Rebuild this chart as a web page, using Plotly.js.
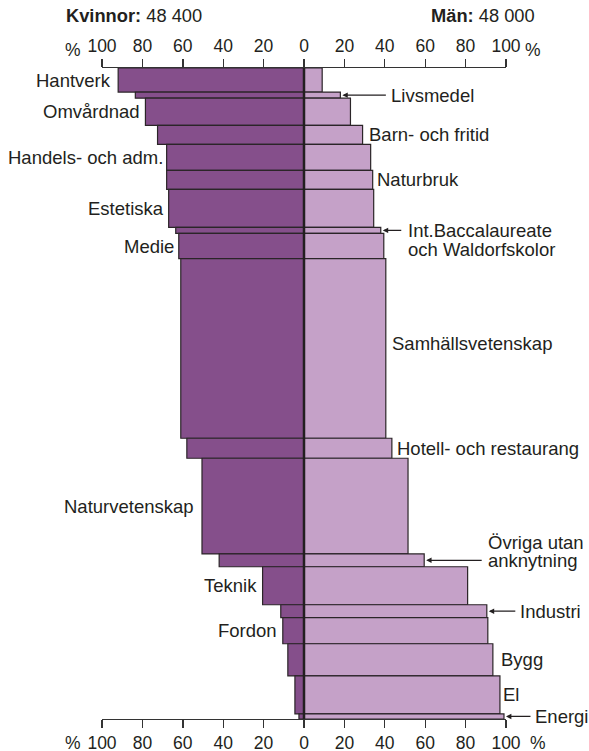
<!DOCTYPE html>
<html>
<head>
<meta charset="utf-8">
<script src="https://cdn.plot.ly/plotly-3.0.1.min.js"></script>
<style>
  html, body { margin: 0; padding: 0; background: #fff; }
  #chart { width: 589px; height: 751px; }
</style>
</head>
<body>
<div id="chart"></div>
<script>
// program, antal elever (bar height) and share of women / men in percent
const program = ['Hantverk', 'Livsmedel', 'Omvårdnad', 'Barn- och fritid', 'Handels- och adm.',
  'Naturbruk', 'Estetiska', 'Int.Baccalaureate och Waldorfskolor', 'Medie', 'Samhällsvetenskap',
  'Hotell- och restaurang', 'Naturvetenskap', 'Övriga utan anknytning', 'Teknik', 'Industri',
  'Fordon', 'Bygg', 'El', 'Energi'];
const elever = [3550, 900, 4000, 2800, 3850, 2800, 5600, 900, 3700, 26500,
  2950, 14100, 1900, 5600, 1900, 3850, 4750, 5600, 750];
const kvinnor = [92, 83.5, 78.5, 72.5, 68, 68, 67, 63.5, 62, 61,
  58, 50.5, 42, 20.5, 11.5, 10.5, 8, 4.5, 2.5];
const man = [9, 18, 23, 29, 33, 34, 34.5, 38, 39.5, 40.5,
  43.5, 51.5, 59.5, 81, 90.5, 91, 93.5, 97, 99];

const tickVals = [-100, -80, -60, -40, -20, 0, 20, 40, 60, 80, 100];
const tickText = ['100', '80', '60', '40', '20', '0', '20', '40', '60', '80', '100'];

const textColor = '#231f20';
const font = 'Liberation Sans, Arial, sans-serif';
const labelSize = 18.5;

// centre of every bar along the y axis
const total = elever.reduce((a, b) => a + b, 0);
const mitt = [];
let acc = 0;
elever.forEach(n => { mitt.push(acc + n / 2); acc += n; });

// where each program name goes
const etikett = {
  'Hantverk': { side: 'left', dx: -6 },
  'Omvårdnad': { side: 'left', dx: -4 },
  'Handels- och adm.': { side: 'left', dx: -3 },
  'Estetiska': { side: 'left', dx: -4 },
  'Medie': { side: 'left', dx: -4 },
  'Naturvetenskap': { side: 'left', dx: -7 },
  'Teknik': { side: 'left', dx: -5 },
  'Fordon': { side: 'left', dx: -5 },
  'Barn- och fritid': { side: 'right', dx: 5 },
  'Naturbruk': { side: 'right', dx: 3 },
  'Samhällsvetenskap': { side: 'right', dx: 5, dy: 5 },
  'Hotell- och restaurang': { side: 'right', dx: 4 },
  'Bygg': { side: 'right', dx: 7 },
  'El': { side: 'right', dx: 2 },
  'Livsmedel': { side: 'right', dx: 50, arrow: 47 },
  'Int.Baccalaureate och Waldorfskolor': { side: 'right', dx: 26, arrow: 22,
    lines: ['Int.Baccalaureate', 'och Waldorfskolor'], dys: [0, -19] },
  'Övriga utan anknytning': { side: 'right', dx: 63, arrow: 59,
    lines: ['Övriga utan', 'anknytning'], dys: [18, 0] },
  'Industri': { side: 'right', dx: 32, arrow: 30 },
  'Energi': { side: 'right', dx: 30, arrow: 28 }
};

const annotations = [];
program.forEach((p, i) => {
  const e = etikett[p];
  if (!e) return;
  const x = e.side === 'left' ? -kvinnor[i] : man[i];
  const lines = e.lines || [p];
  const dys = e.dys || [e.dy || 0];
  lines.forEach((t, k) => {
    annotations.push({
      x: x, y: mitt[i], xref: 'x', yref: 'y', text: t, showarrow: false,
      xanchor: e.side === 'left' ? 'right' : 'left', yanchor: 'middle',
      xshift: e.dx, yshift: dys[k], borderpad: 0,
      font: { family: font, size: labelSize, color: textColor }
    });
  });
  if (e.arrow) {
    annotations.push({
      x: x, y: mitt[i], xref: 'x', yref: 'y', text: '', showarrow: true,
      ax: e.arrow, ay: 0, arrowhead: 2, arrowsize: 0.9, arrowwidth: 1.2,
      arrowcolor: textColor, standoff: 2
    });
  }
});

// headline texts and % signs
annotations.push(
  { xref: 'paper', yref: 'paper', x: -0.094, y: 1.08, xanchor: 'left', yanchor: 'middle',
    text: '<b>Kvinnor:</b> 48 400', showarrow: false, font: { family: font, size: 18.3, color: textColor } },
  { xref: 'paper', yref: 'paper', x: 1.077, y: 1.08, xanchor: 'right', yanchor: 'middle',
    text: '<b>Män:</b> 48 000', showarrow: false, font: { family: font, size: 18.3, color: textColor } },
  { xref: 'paper', yref: 'paper', x: -0.073, y: 1.028, xanchor: 'center', yanchor: 'middle',
    text: '%', showarrow: false, font: { family: font, size: 17.5, color: textColor } },
  { xref: 'paper', yref: 'paper', x: 1.067, y: 1.028, xanchor: 'center', yanchor: 'middle',
    text: '%', showarrow: false, font: { family: font, size: 17.5, color: textColor } },
  { xref: 'paper', yref: 'paper', x: -0.071, y: -0.037, xanchor: 'center', yanchor: 'middle',
    text: '%', showarrow: false, font: { family: font, size: 17.5, color: textColor } },
  { xref: 'paper', yref: 'paper', x: 1.079, y: -0.037, xanchor: 'center', yanchor: 'middle',
    text: '%', showarrow: false, font: { family: font, size: 17.5, color: textColor } }
);

const outline = { color: '#2b2528', width: 1.2 };

const traces = [
  {
    type: 'bar', orientation: 'h', name: 'Kvinnor',
    y: mitt, x: kvinnor.map(v => -v), width: elever,
    marker: { color: '#854f8b', line: outline },
    hoverinfo: 'skip'
  },
  {
    type: 'bar', orientation: 'h', name: 'Män',
    y: mitt, x: man, width: elever,
    marker: { color: '#c5a1c8', line: outline },
    hoverinfo: 'skip'
  },
  {
    // carries the top axis
    type: 'scatter', mode: 'markers', x: [0], y: [0], xaxis: 'x2',
    marker: { opacity: 0 }, hoverinfo: 'skip', showlegend: false
  }
];

const axisBase = {
  range: [-100, 100], tickvals: tickVals, ticktext: tickText,
  showline: true, linecolor: '#333', linewidth: 1.4,
  ticks: 'outside', ticklen: 8, tickwidth: 1.4, tickcolor: '#333',
  showgrid: false, zeroline: false, fixedrange: true,
  tickfont: { family: font, size: 17.5, color: textColor }
};

const layout = {
  width: 589, height: 751,
  margin: { l: 102, r: 83, t: 68, b: 32 },
  paper_bgcolor: '#fff', plot_bgcolor: '#fff',
  showlegend: false, barmode: 'overlay',
  xaxis: Object.assign({}, axisBase, { side: 'bottom' }),
  xaxis2: Object.assign({}, axisBase, { side: 'top', overlaying: 'x', anchor: 'y' }),
  yaxis: { range: [total, 0], visible: false, showgrid: false, zeroline: false, fixedrange: true },
  shapes: [{
    type: 'line', xref: 'x', yref: 'paper', x0: 0, x1: 0, y0: 0, y1: 1,
    line: { color: textColor, width: 2.5 }
  }],
  annotations: annotations
};

Plotly.newPlot('chart', traces, layout, { displayModeBar: false, staticPlot: true });
</script>
</body>
</html>
